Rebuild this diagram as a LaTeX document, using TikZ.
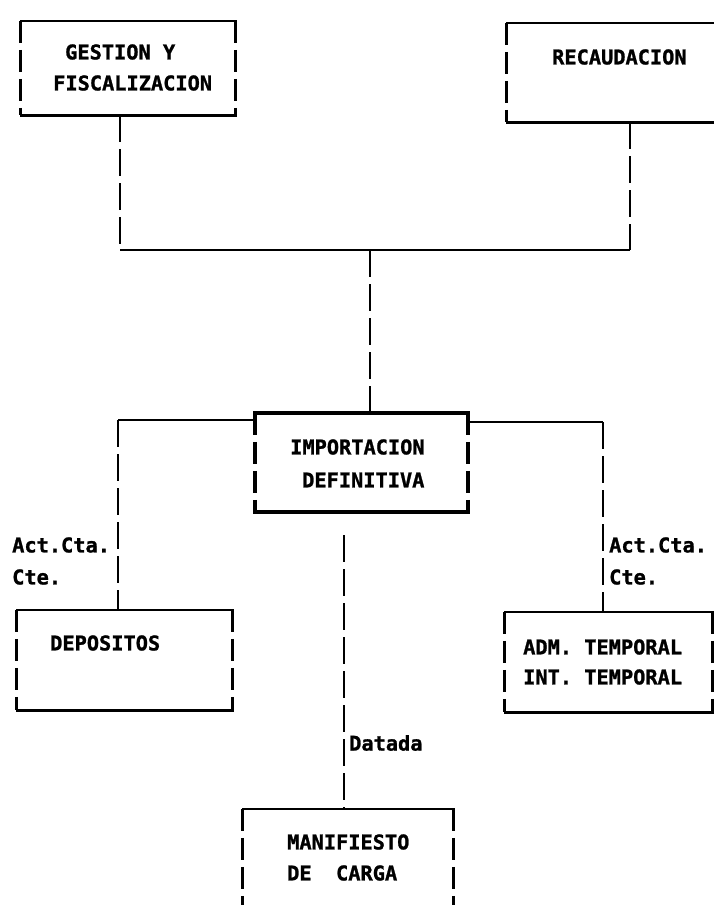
\documentclass[tikz,border=0pt]{standalone}
\usepackage{fontspec}
\setmonofont{DejaVu Sans Mono}[BoldFeatures={FakeBold=1.2}]
\usetikzlibrary{fit}
\tikzset{
  boxarea/.style={inner sep=0pt, draw=none},
  hline/.style={line width=2.6pt, line cap=rect},
  vline/.style={line width=3pt, dash pattern=on 22pt off 7pt},
  hthick/.style={line width=4pt, line cap=rect},
  vthick/.style={line width=4pt, dash pattern=on 22pt off 7pt},
  conn/.style={line width=2.6pt},
  dconn/.style={line width=2.8pt, dash pattern=on 27pt off 7pt},
  lbl/.style={font=\ttfamily\bfseries\fontsize{20.3}{24}\selectfont, inner sep=0pt, anchor=west},
}
\begin{document}
\begin{tikzpicture}[x=1pt,y=-1pt]
\useasboundingbox[fill=white] (0,0) rectangle (714,905);

% box areas
\node[boxarea, fit={(21,21) (235,115)}] (g) {};
\node[boxarea, fit={(507,23) (714,122)}] (rec) {};
\node[boxarea, fit={(255,413) (468,512)}] (imp) {};
\node[boxarea, fit={(17,610) (232,710)}] (dep) {};
\node[boxarea, fit={(505,612) (712,712)}] (adm) {};
\node[boxarea, fit={(243,809) (453,905)}] (man) {};

% GESTION box
\draw[hline] (g.north west) -- (g.north east);
\draw[hline] (g.south west) -- (g.south east);
\draw[vline] (g.north west) -- (g.south west);
\draw[vline] (g.north east) -- (g.south east);
% RECAUDACION box (right side beyond edge)
\draw[hline] (rec.north west) -- (rec.north east);
\draw[hline] (rec.south west) -- (rec.south east);
\draw[vline] (rec.north west) -- (rec.south west);
% IMPORTACION box (thick)
\draw[hthick] (imp.north west) -- (imp.north east);
\draw[hthick] (imp.south west) -- (imp.south east);
\draw[vthick] (imp.north west) -- (imp.south west);
\draw[vthick] (imp.north east) -- (imp.south east);
% DEPOSITOS box
\draw[hline] (dep.north west) -- (dep.north east);
\draw[hline] (dep.south west) -- (dep.south east);
\draw[vline] (dep.north west) -- (dep.south west);
\draw[vline] (dep.north east) -- (dep.south east);
% ADM box
\draw[hline] (adm.north west) -- (adm.north east);
\draw[hline] (adm.south west) -- (adm.south east);
\draw[vline] (adm.north west) -- (adm.south west);
\draw[vline] (adm.north east) -- (adm.south east);
% MANIFIESTO box (bottom beyond edge)
\draw[hline] (man.north west) -- (man.north east);
\draw[vline] (man.north west) -- (man.south west);
\draw[vline] (man.north east) -- (man.south east);

% texts
\node[lbl] (t1) at (65,52) {GESTION Y};
\node[lbl] (t2) at (53,83) {FISCALIZACION};
\node[lbl] (t3) at (552,57) {RECAUDACION};
\node[lbl] (t4) at (290,447) {IMPORTACION};
\node[lbl] (t5) at (302,480) {DEFINITIVA};
\node[lbl] (t6) at (50,643) {DEPOSITOS};
\node[lbl] (t7) at (523,647) {ADM. TEMPORAL};
\node[lbl] (t8) at (523,677) {INT. TEMPORAL};
\node[lbl] (t9) at (287,842) {MANIFIESTO};
\node[lbl] (t10) at (287,873) {DE\ \ CARGA};
\node[lbl] (l1) at (12,545) {Act.Cta.};
\node[lbl] (l2) at (12,577) {Cte.};
\node[lbl] (l3) at (609,545) {Act.Cta.};
\node[lbl] (l4) at (609,577) {Cte.};
\node[lbl] (l5) at (349,743) {Datada};

% junctions
\coordinate (jL) at (120,250);
\coordinate (jR) at (630,250);
\coordinate (jC) at (370,250);
\coordinate (bL) at (118,420);
\coordinate (bR) at (603,422);
\coordinate (cD) at (344,535);

% upper connectors
\draw[dconn] (g.south -| jL) -- (jL);
\draw[dconn] (rec.south -| jR) -- (jR);
\draw[conn] (jL) -- (jR);
\draw[dconn] (jC) -- (imp.north -| jC);

% side branches
\draw[conn] (imp.west |- bL) -- (bL);
\draw[dconn] (bL) -- (dep.north -| bL);
\draw[conn] (imp.east |- bR) -- (bR);
\draw[dconn] (bR) -- (adm.north -| bR);

% lower centre
\draw[dconn] (cD) -- (man.north -| cD);
\end{tikzpicture}
\end{document}
